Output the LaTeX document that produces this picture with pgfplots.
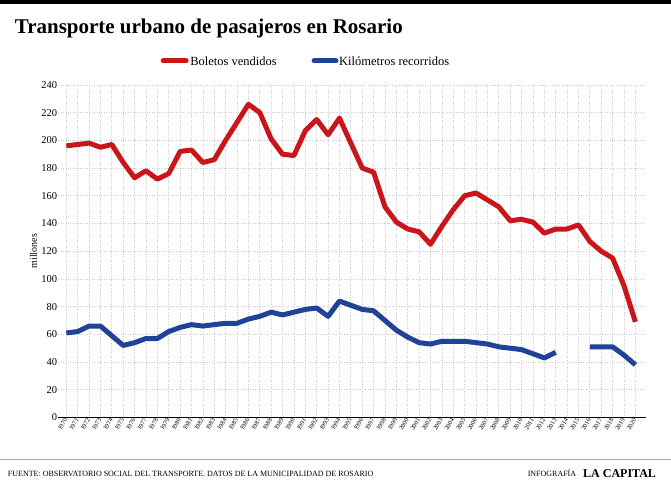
\documentclass[border=0pt]{standalone}
\usepackage{pgfplots}
\pgfplotsset{compat=1.18}
\usepackage{fontspec}
\setmainfont{Liberation Serif}
\definecolor{red1}{HTML}{C8161A}
\definecolor{blue1}{HTML}{1F4396}
\begin{document}
\begin{tikzpicture}[x=1pt,y=1pt]
\fill[white] (0,0) rectangle (671,482);
\fill[black] (0,478) rectangle (671,482);
\node[anchor=west,font=\bfseries\fontsize{21}{22}\selectfont] at (11,454) {Transporte urbano de pasajeros en Rosario};
\draw[red1,line width=5pt,line cap=round] (163,421) -- (186,421);
\node[anchor=west,font=\fontsize{12.5}{13}\selectfont,inner sep=1pt] at (189,421) {Boletos vendidos};
\draw[blue1,line width=5pt,line cap=round] (314,421) -- (336,421);
\node[anchor=west,font=\fontsize{12.5}{13}\selectfont,inner sep=1pt] at (338,421) {Kilómetros recorridos};
\draw[gray!70,line width=0.8pt] (0,22) -- (671,22);
\node[anchor=west,font=\fontsize{8}{9}\selectfont] at (4,8) {FUENTE: OBSERVATORIO SOCIAL DEL TRANSPORTE. DATOS DE LA MUNICIPALIDAD DE ROSARIO};
\node[anchor=east,font=\fontsize{8}{9}\selectfont] at (580,8) {INFOGRAFÍA};
\node[anchor=west,font=\bfseries\fontsize{12}{13}\selectfont] at (580,8) {LA CAPITAL};
\begin{axis}[
  at={(58pt,64pt)}, anchor=origin, scale only axis,
  width=588pt, height=333pt,
  xmin=1969.3, xmax=2020.9, ymin=0, ymax=240,
  axis x line*=bottom, axis y line*=left,
  x axis line style={line width=1.5pt,-},
  y axis line style={draw=none},
  xtick={1970,...,2020}, ytick={0,20,...,240},
  xticklabel style={rotate=60,anchor=east,font=\fontsize{6.5}{7}\selectfont,inner sep=1pt},
  xticklabel={\pgfmathprintnumber[1000 sep={}]{\tick}},
  yticklabel style={font=\fontsize{10.5}{11}\selectfont,inner sep=1pt},
  /pgf/number format/assume math mode=true,
  x tick style={draw=none}, y tick style={draw=none},
  ylabel={millones}, ylabel style={font=\fontsize{10}{11}\selectfont},
  grid=major, grid style={gray!40,dotted,line width=0.7pt},
  clip=false,
]
\addplot[red1,line width=5pt,line join=round] coordinates {
(1970,196)(1971,197)(1972,198)(1973,195)(1974,197)(1975,184)(1976,173)(1977,178)(1978,172)(1979,176)
(1980,192)(1981,193)(1982,184)(1983,186)(1984,200)(1985,213)(1986,226)(1987,220)(1988,201)(1989,190)
(1990,189)(1991,207)(1992,215)(1993,204)(1994,216)(1995,198)(1996,180)(1997,177)(1998,152)(1999,141)
(2000,136)(2001,134)(2002,125)(2003,138)(2004,150)(2005,160)(2006,162)(2007,157)(2008,152)(2009,142)
(2010,143)(2011,141)(2012,133)(2013,136)(2014,136)(2015,139)(2016,127)(2017,120)(2018,115)(2019,95)(2020,69)};
\addplot[blue1,line width=5pt,line join=round,unbounded coords=jump] coordinates {
(1970,61)(1971,62)(1972,66)(1973,66)(1974,59)(1975,52)(1976,54)(1977,57)(1978,57)(1979,62)
(1980,65)(1981,67)(1982,66)(1983,67)(1984,68)(1985,68)(1986,71)(1987,73)(1988,76)(1989,74)
(1990,76)(1991,78)(1992,79)(1993,73)(1994,84)(1995,81)(1996,78)(1997,77)(1998,70)(1999,63)
(2000,58)(2001,54)(2002,53)(2003,55)(2004,55)(2005,55)(2006,54)(2007,53)(2008,51)(2009,50)
(2010,49)(2011,46)(2012,43)(2013,47)(2014,nan)(2015,nan)(2016,51)(2017,51)(2018,51)(2019,45)(2020,38)};
\end{axis}
\end{tikzpicture}
\end{document}
